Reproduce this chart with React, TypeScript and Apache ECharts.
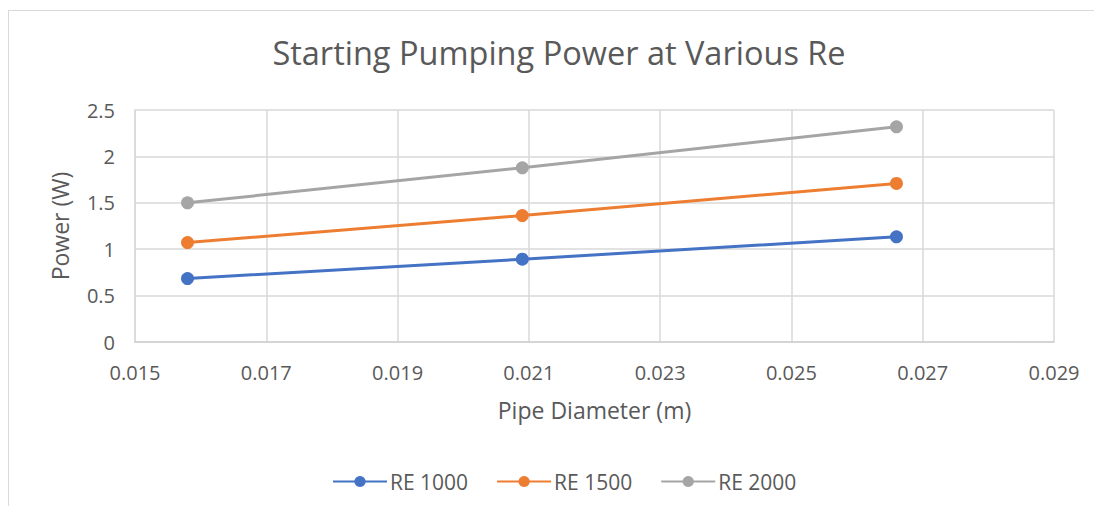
import React, { useEffect, useRef } from "react";
import * as echarts from "echarts";

const diameters = [0.0158, 0.0209, 0.0266];
const re1000 = [0.684, 0.892, 1.133];
const re1500 = [1.072, 1.363, 1.709];
const re2000 = [1.5, 1.877, 2.319];
const seriesNames = ["RE 1000", "RE 1500", "RE 2000"];
const seriesValues = [re1000, re1500, re2000];
const colors = ["#4472C4", "#ED7D31", "#A5A5A5"];

const FONT = "'Open Sans', sans-serif";
const TXT = "#595959";

export default function App() {
  const ref = useRef<HTMLDivElement>(null);
  useEffect(() => {
    if (!ref.current) return;
    const chart = echarts.init(ref.current, null, { renderer: "svg" });
    chart.setOption({
      animation: false,
      backgroundColor: "#ffffff",
      title: {
        text: "Starting Pumping Power at Various Re",
        left: 550,
        top: 25,
        textAlign: "center",
        padding: 0,
        textStyle: { fontFamily: FONT, fontSize: 32.5, fontWeight: "normal", color: TXT },
      },
      grid: { left: 126, right: 48, top: 99, bottom: 164, containLabel: false },
      legend: {
        left: 323,
        top: 460,
        padding: 0,
        itemWidth: 54,
        itemHeight: 14,
        itemGap: 28,
        textStyle: { fontFamily: FONT, fontSize: 21, color: TXT, padding: [0, 0, 0, -2] },
        data: seriesNames,
      },
      xAxis: {
        type: "value",
        min: 0.015,
        max: 0.029,
        interval: 0.002,
        name: "Pipe Diameter (m)",
        nameLocation: "middle",
        nameGap: 56,
        nameTextStyle: { fontFamily: FONT, fontSize: 23, color: TXT },
        axisLine: { show: true, lineStyle: { color: "#d0d0d0", width: 1.5 } },
        axisTick: { show: false },
        axisLabel: {
          fontFamily: FONT,
          fontSize: 20,
          color: TXT,
          margin: 20,
          formatter: (v: number) => v.toFixed(3),
        },
        splitLine: { show: true, lineStyle: { color: "#d9d9d9", width: 1.5 } },
      },
      yAxis: {
        type: "value",
        min: 0,
        max: 2.5,
        interval: 0.5,
        name: "Power (W)",
        nameLocation: "middle",
        nameGap: 64,
        nameTextStyle: { fontFamily: FONT, fontSize: 23, color: TXT },
        axisLine: { show: true, lineStyle: { color: "#d9d9d9", width: 1.5 } },
        axisTick: { show: false },
        axisLabel: {
          fontFamily: FONT,
          fontSize: 20,
          color: TXT,
          margin: 20,
          formatter: (v: number) => String(v),
        },
        splitLine: { show: true, lineStyle: { color: "#d9d9d9", width: 1.5 } },
      },
      series: seriesNames.map((name, i) => ({
        name,
        type: "line",
        data: diameters.map((d, j) => [d, seriesValues[i][j]]),
        symbol: "circle",
        symbolSize: 13,
        lineStyle: { color: colors[i], width: 3 },
        itemStyle: { color: colors[i] },
      })),
    });
    return () => chart.dispose();
  }, []);
  return (
    <div
      style={{
        marginTop: 2,
        width: 1093,
        height: 495,
        borderLeft: "1px solid #d9d9d9",
        borderTop: "1px solid #d9d9d9",
      }}
    >
      <div ref={ref} style={{ width: 1093, height: 495 }} />
    </div>
  );
}
